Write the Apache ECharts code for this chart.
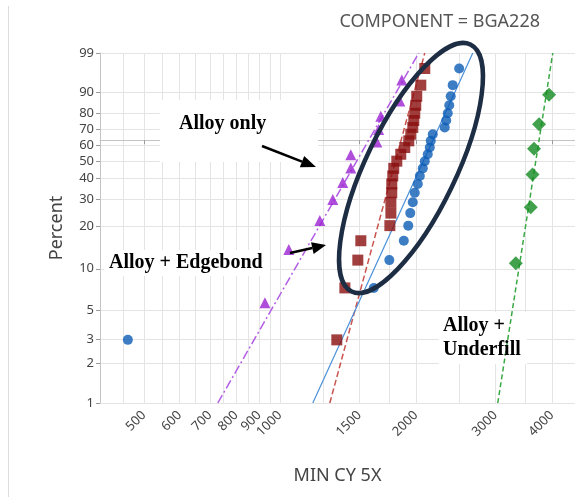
<!DOCTYPE html>
<html>
<head>
<meta charset="utf-8">
<script src="https://cdn.jsdelivr.net/npm/echarts@6/dist/echarts.min.js"></script>
<style>
  html, body { margin: 0; padding: 0; background: #fff; }
  #chart { width: 575px; height: 497px; }
</style>
</head>
<body>
<div id="chart"></div>
<script>
// Weibull probability plot: cycles (MIN CY 5X) vs. median-rank percent failed.

// Triangles (purple)
const triCycles = [927, 1047, 1226, 1310, 1378, 1436, 1436, 1639, 1655, 1673, 1843, 1862];
const triPct    = [5.65, 13.71, 21.77, 29.84, 37.90, 45.97, 54.03, 62.10, 70.16, 78.23, 86.29, 94.35];

// Squares (dark red)
const sqCycles = [1337, 1393, 1488, 1511, 1752, 1761, 1761, 1769, 1769, 1778, 1787, 1815,
                  1852, 1890, 1929, 1949, 1969, 1979, 1989, 1999, 2009, 2051, 2093];
const sqPct    = [2.99, 7.26, 11.54, 15.81, 20.09, 24.36, 28.63, 32.91, 37.18, 41.45, 45.73, 50.00,
                  54.27, 58.55, 62.82, 67.09, 71.37, 75.64, 79.91, 84.19, 88.46, 92.74, 97.01];

// Circles (blue)
const circCycles = [461, 1614, 1747, 1881, 1924, 1944, 1969, 1989, 2020, 2041, 2072, 2093,
                    2125, 2147, 2158, 2180, 2317, 2335, 2353, 2371, 2389, 2413, 2494];
const circPct    = [2.99, 7.26, 11.54, 15.81, 20.09, 24.36, 28.63, 32.91, 37.18, 41.45, 45.73, 50.00,
                    54.27, 58.55, 62.82, 67.09, 71.37, 75.64, 79.91, 84.19, 88.46, 92.74, 97.01];

// Diamonds (green)
const diaCycles = [3328, 3592, 3624, 3652, 3747, 3943];
const diaPct    = [10.94, 26.56, 42.19, 57.81, 73.44, 89.06];

// Fitted Weibull lines, cycles at 1 % and 99 %
const fitPct     = [1, 99];
const triFit     = [729, 2030];
const sqFit      = [1290, 2093];
const circFit    = [1183, 2673];
const diaFit     = [3036, 4018];

// Axes
const xRange       = [400, 4500];
const xTickLabels  = [500, 600, 700, 800, 900, 1000, 1500, 2000, 3000, 4000];
const xGridValues  = [450, 500, 550, 600, 650, 700, 750, 800, 850, 900, 950, 1000,
                      1250, 1500, 1750, 2000, 2500, 3000, 3500, 4000];
const yTickLabels  = [1, 2, 3, 5, 10, 20, 30, 40, 50, 60, 70, 80, 90, 99];

// Scale transforms: log10 for cycles, ln(-ln(1-F)) for percent
const tx = v => Math.log10(v);
const ty = p => Math.log(-Math.log(1 - p / 100));
const pts = (xs, ps) => xs.map((x, i) => [tx(x), ty(ps[i])]);

const GRID = { left: 100, right: 0, top: 53, bottom: 94 };
const labelFont = '"Noto Sans", "Open Sans", sans-serif';

const chart = echarts.init(document.getElementById('chart'), null, { renderer: 'canvas' });

function arrow(x1, y1, x2, y2, head, halfW) {
  const a = Math.atan2(y2 - y1, x2 - x1);
  const bx = x2 - head * Math.cos(a), by = y2 - head * Math.sin(a);
  const nx = -Math.sin(a) * halfW, ny = Math.cos(a) * halfW;
  return [
    { type: 'line', z: 20, shape: { x1, y1, x2: bx, y2: by }, style: { stroke: '#000', lineWidth: 2.5 } },
    { type: 'polygon', z: 20, shape: { points: [[x2, y2], [bx + nx, by + ny], [bx - nx, by - ny]] }, style: { fill: '#000' } }
  ];
}

const noteFont = 'bold 20px "Liberation Serif", "DejaVu Serif", serif';

const option = {
  animation: false,
  backgroundColor: '#fff',
  title: {
    text: 'COMPONENT = BGA228',
    right: 30, top: 8,
    textStyle: { fontFamily: labelFont, fontSize: 18, fontWeight: 'normal', color: '#555' }
  },
  grid: GRID,
  xAxis: [
    {
      type: 'value', min: tx(xRange[0]), max: tx(xRange[1]), position: 'bottom',
      name: 'MIN CY 5X', nameLocation: 'middle', nameGap: 64,
      nameTextStyle: { fontFamily: labelFont, fontSize: 18, color: '#444' },
      axisLine: { show: true, lineStyle: { color: '#c4c4c4' } },
      axisTick: { show: true, length: 4, customValues: xTickLabels.map(tx), lineStyle: { color: '#999' } },
      axisLabel: {
        customValues: xTickLabels.map(tx), rotate: 45, margin: 10,
        fontFamily: labelFont, fontSize: 13, color: '#444',
        formatter: v => String(Math.round(Math.pow(10, v)))
      },
      splitLine: { show: false }
    },
    {
      type: 'value', min: tx(xRange[0]), max: tx(xRange[1]), position: 'bottom',
      axisLine: { show: false }, axisLabel: { show: false },
      axisTick: { show: false, customValues: xGridValues.map(tx) },
      splitLine: { show: true, customValues: xGridValues.map(tx), lineStyle: { color: '#e4e4e4', width: 1 } }
    }
  ],
  yAxis: {
    type: 'value', min: ty(yTickLabels[0]), max: ty(yTickLabels[yTickLabels.length - 1]),
    name: 'Percent', nameLocation: 'middle', nameGap: 34,
    nameTextStyle: { fontFamily: labelFont, fontSize: 18, color: '#444' },
    axisLine: { show: true, lineStyle: { color: '#c4c4c4' } },
    axisTick: { show: true, length: 4, customValues: yTickLabels.map(ty), lineStyle: { color: '#999' } },
    axisLabel: {
      customValues: yTickLabels.map(ty), margin: 6,
      fontFamily: labelFont, fontSize: 13, color: '#444',
      formatter: v => String(Math.round(100 * (1 - Math.exp(-Math.exp(v)))))
    },
    splitLine: { show: true, customValues: yTickLabels.map(ty), lineStyle: { color: '#e4e4e4', width: 1 } }
  },
  series: [
    { type: 'line', data: pts(triFit, fitPct), symbol: 'none', z: 3,
      lineStyle: { color: '#b45ee6', width: 1.5, type: [9, 3, 2, 3] } },
    { type: 'line', data: pts(sqFit, fitPct), symbol: 'none', z: 3,
      lineStyle: { color: '#c9544f', width: 1.5, type: [6, 3] } },
    { type: 'line', data: pts(circFit, fitPct), symbol: 'none', z: 3,
      lineStyle: { color: '#4a90d9', width: 1.2 } },
    { type: 'line', data: pts(diaFit, fitPct), symbol: 'none', z: 3,
      lineStyle: { color: '#3aa845', width: 1.5, type: [5, 3] } },
    { type: 'scatter', data: pts(triCycles, triPct), symbol: 'triangle', symbolSize: 11, z: 4,
      itemStyle: { color: '#9a22d2' } },
    { type: 'scatter', data: pts(sqCycles, sqPct), symbol: 'rect', symbolSize: 11, z: 4,
      itemStyle: { color: '#8a0f0f' } },
    { type: 'scatter', data: pts(circCycles, circPct), symbol: 'circle', symbolSize: 10, z: 4,
      itemStyle: { color: '#0b5cb5' } },
    { type: 'scatter', data: pts(diaCycles, diaPct), symbol: 'diamond', symbolSize: 14, z: 4,
      itemStyle: { color: '#138a1f' } }
  ],
  graphic: [
    { type: 'line', z: 1, shape: { x1: 8.5, y1: 6, x2: 8.5, y2: 497 }, style: { stroke: '#dcdcdc', lineWidth: 1 } },
    // note boxes
    { type: 'rect', z: 1, shape: { x: 160, y: 100, width: 158, height: 62 }, style: { fill: '#fff' } },
    { type: 'rect', z: 1, shape: { x: 104, y: 250, width: 166, height: 26 }, style: { fill: '#fff' } },
    { type: 'rect', z: 1, shape: { x: 439, y: 312, width: 88, height: 52 }, style: { fill: '#fff' } },
    { type: 'text', z: 20, x: 179, y: 124, style: { text: 'Alloy only', font: noteFont, fill: '#000', textVerticalAlign: 'middle' } },
    { type: 'text', z: 20, x: 109, y: 263, style: { text: 'Alloy + Edgebond', font: noteFont, fill: '#000', textVerticalAlign: 'middle' } },
    { type: 'text', z: 20, x: 443, y: 326, style: { text: 'Alloy +', font: noteFont, fill: '#000', textVerticalAlign: 'middle' } },
    { type: 'text', z: 20, x: 443, y: 350, style: { text: 'Underfill', font: noteFont, fill: '#000', textVerticalAlign: 'middle' } },
    ...arrow(262, 146, 316, 167, 15, 6),
    ...arrow(290, 253, 326, 245, 14, 6),
    { type: 'ellipse', z: 15, x: 411, y: 168, rotation: 64.3 * Math.PI / 180,
      shape: { cx: 0, cy: 0, rx: 137, ry: 45 },
      style: { fill: 'none', stroke: '#1d2d44', lineWidth: 4.5 } }
  ]
};

chart.setOption(option);
</script>
</body>
</html>
